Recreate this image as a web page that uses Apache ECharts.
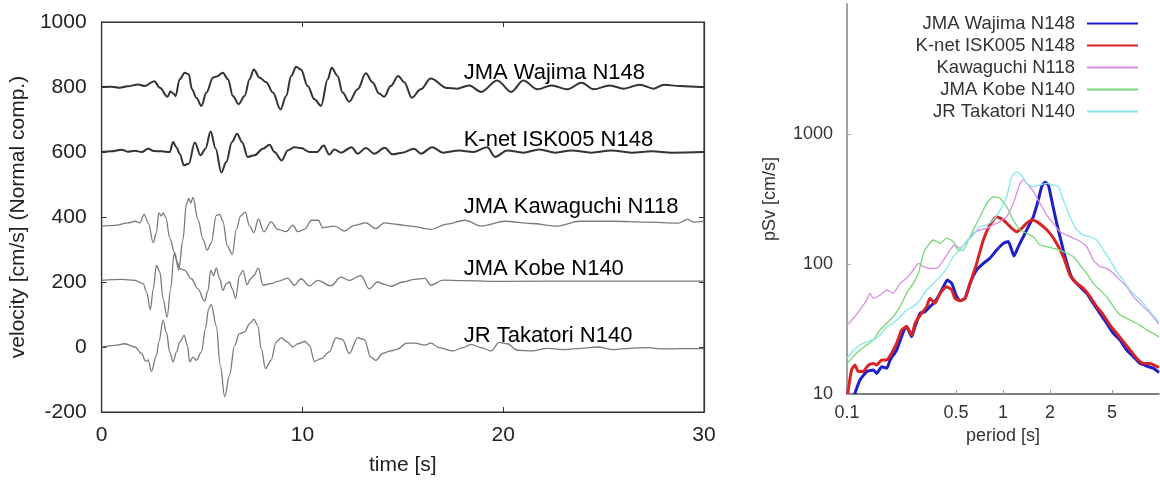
<!DOCTYPE html>
<html><head><meta charset="utf-8">
<script src="https://cdn.jsdelivr.net/npm/echarts@6/dist/echarts.min.js"></script>
<style>html,body{margin:0;padding:0;background:#fff}#c{width:1160px;height:481px}</style>
</head><body><div id="c"></div>
<script>
// ---------- left panel: velocity waveforms (time [s], velocity with offset [cm/s]) ----------
const xTicksTime = [0, 10, 20, 30];
const yTicksVel = [-200, 0, 200, 400, 600, 800, 1000];
const waveNames = ['JMA Wajima N148', 'K-net ISK005 N148', 'JMA Kawaguchi N118', 'JMA Kobe N140', 'JR Takatori N140'];
const waveLabelAnchor = [[18.03, 843], [18.03, 638], [18.03, 432], [18.03, 239], [18.03, 33]];

const waveWajima = [[0,800],[0.5,801],[0.9,798],[1.3,802],[1.82,808],[2.15,803],[2.62,818],[2.9,798],[3.28,770],[3.43,786],[3.56,781],[3.68,772],[3.89,824],[4.14,844],[4.34,839],[4.5,793],[4.72,767],[4.97,742],[5.22,783],[5.55,829],[5.71,832],[6.04,844],[6.29,824],[6.54,772],[6.82,747],[7.12,772],[7.37,824],[7.58,854],[7.86,829],[8.2,815],[8.53,783],[8.91,731],[9.19,772],[9.44,834],[9.69,862],[9.93,854],[10.26,803],[10.6,762],[10.93,742],[11.26,824],[11.46,859],[11.75,834],[12.0,783],[12.33,755],[12.75,793],[13.16,842],[13.49,815],[13.82,780],[14.07,770],[14.4,803],[14.77,834],[15.07,815],[15.45,767],[15.89,793],[16.39,826],[17.2,797],[17.7,795],[18.3,805],[18.9,785],[19.7,820],[20.4,785],[21.0,820],[21.7,793],[22.4,805],[23.2,793],[23.9,813],[24.5,793],[25.3,805],[26.0,795],[26.8,807],[27.5,795],[28.0,807],[28.8,803],[29.8,800],[30,800]];
const waveKnet = [[0,600],[0.5,602],[1.0,607],[1.3,601],[1.65,604],[2.0,600],[2.32,610],[2.6,603],[2.98,602],[3.39,600],[3.56,631],[3.72,615],[3.89,595],[4.1,559],[4.34,564],[4.64,629],[4.93,590],[5.17,610],[5.43,663],[5.68,610],[5.96,537],[6.21,569],[6.49,631],[6.75,656],[6.99,631],[7.28,585],[7.62,590],[8.03,610],[8.36,622],[8.61,600],[8.97,574],[9.27,605],[9.6,615],[9.93,612],[10.35,600],[10.73,600],[11.06,620],[11.34,592],[11.59,608],[11.92,598],[12.45,615],[12.75,595],[13.16,612],[13.58,595],[14.1,613],[14.49,593],[14.98,598],[15.56,610],[15.9,595],[16.47,615],[17.0,598],[17.8,605],[18.5,600],[19.2,615],[19.6,585],[20.2,605],[21.0,598],[21.8,608],[22.6,598],[23.4,605],[24.4,598],[25.4,605],[26.4,598],[27.4,602],[28.4,598],[30,600]];
const waveKawaguchi = [[0,372],[0.66,374],[1.32,382],[1.66,387],[1.9,382],[2.12,408],[2.32,382],[2.57,321],[2.73,352],[2.85,413],[2.98,403],[3.06,413],[3.2,398],[3.39,336],[3.64,290],[3.84,237],[4.05,330],[4.22,440],[4.34,457],[4.44,444],[4.55,460],[4.8,392],[5.05,331],[5.26,298],[5.46,320],[5.71,405],[5.88,408],[6.04,387],[6.26,311],[6.51,285],[6.71,362],[6.92,403],[7.15,415],[7.37,372],[7.58,352],[7.81,394],[8.08,354],[8.44,385],[8.77,362],[9.19,355],[9.52,375],[9.77,355],[10.1,362],[10.46,390],[10.79,390],[11.01,367],[11.59,372],[12.09,357],[12.58,374],[13.16,382],[13.66,364],[14.07,382],[14.74,377],[15.4,372],[16.39,362],[17.2,378],[18.1,390],[18.9,372],[20.1,387],[21.4,380],[22.7,372],[23.8,387],[25.5,387],[27.1,384],[28.7,381],[29.2,393],[29.5,384],[30,387]];
const waveKobe = [[0,205],[1.0,208],[1.66,205],[2.07,195],[2.24,169],[2.43,115],[2.57,179],[2.73,251],[2.9,231],[3.06,149],[3.26,92],[3.44,179],[3.61,287],[3.77,261],[3.89,241],[4.14,236],[4.47,210],[4.8,179],[5.13,141],[5.3,174],[5.43,236],[5.58,220],[5.71,243],[5.88,210],[6.04,174],[6.21,195],[6.37,200],[6.51,179],[6.67,149],[6.87,220],[7.04,236],[7.24,192],[7.42,210],[7.58,220],[7.81,243],[8.03,190],[8.44,195],[8.77,202],[9.27,212],[9.6,190],[9.93,210],[10.35,188],[10.76,205],[11.42,188],[11.92,215],[12.33,205],[12.91,220],[13.33,179],[13.74,200],[14.07,193],[14.4,187],[15.0,200],[15.6,208],[16.1,211],[16.4,190],[17.0,206],[18.0,204],[20,202],[25,203],[30,203]];
const waveTakatori = [[0,0],[0.66,5],[1.16,10],[1.66,0],[1.99,-20],[2.19,-44],[2.32,-40],[2.48,-75],[2.73,-26],[2.85,15],[3.06,82],[3.23,45],[3.39,-15],[3.56,-46],[3.73,-15],[3.89,15],[4.11,36],[4.27,5],[4.39,-46],[4.55,-31],[4.72,-41],[4.97,-15],[5.17,56],[5.33,118],[5.46,130],[5.71,66],[5.91,-56],[6.13,-153],[6.37,-87],[6.62,5],[6.87,41],[7.12,46],[7.37,72],[7.58,85],[7.78,66],[7.95,-5],[8.16,-66],[8.44,-41],[8.69,15],[8.94,28],[9.27,15],[9.52,0],[9.77,10],[10.13,17],[10.35,5],[10.6,-44],[10.93,-36],[11.34,-15],[11.67,28],[12.0,23],[12.33,-20],[12.75,28],[13.08,23],[13.41,-31],[13.66,-41],[13.99,-20],[14.4,-12],[14.7,-7],[15.2,12],[15.6,12],[16.1,6],[16.4,12],[16.8,-2],[17.5,-12],[18.0,-2],[18.4,8],[18.9,-2],[19.4,-12],[19.8,14],[20.2,10],[20.7,-10],[21.4,-12],[22.2,-4],[23.0,-8],[23.9,-4],[24.7,0],[25.5,-8],[26.3,-4],[27.2,-2],[28.0,-6],[28.8,-5],[30,-5]];

// ---------- right panel: pseudo velocity response spectra (period [s], pSv [cm/s]) ----------
const xTicksPeriod = [0.1, 0.5, 1, 2, 5];
const yTicksPSv = [10, 100, 1000];
const specNames = ['JMA Wajima N148', 'K-net ISK005 N148', 'Kawaguchi N118', 'JMA Kobe N140', 'JR Takatori N140'];

const specWajima = [[0.112,10],[0.121,12.8],[0.134,14.9],[0.1475,15.3],[0.155,14.4],[0.167,16.2],[0.18,15.8],[0.189,18.3],[0.208,21.8],[0.23,30.2],[0.241,33],[0.26,27.6],[0.273,33],[0.294,41.7],[0.316,43],[0.34,47],[0.367,51.3],[0.395,59.5],[0.415,66.9],[0.44,75.3],[0.469,71],[0.505,56.1],[0.53,52.2],[0.571,54.4],[0.615,71],[0.678,89.9],[0.748,101],[0.825,111],[0.911,128],[1.005,144],[1.082,149],[1.137,128],[1.176,115],[1.254,136],[1.35,162],[1.454,194],[1.565,231],[1.685,311],[1.769,393],[1.858,425],[1.952,405],[2.051,311],[2.208,206],[2.436,128],[2.689,84.8],[2.824,75.3],[3.117,66.9],[3.439,59.5],[3.793,49.8],[4.186,41.7],[4.619,35],[5.096,29.3],[5.623,26],[6.204,21.8],[6.845,19.4],[7.553,17.2],[8.335,16.4],[9.195,15.8],[10,14.6]];
const specKnet = [[0.101,10],[0.107,15.3],[0.1125,16.7],[0.118,14.9],[0.127,14.9],[0.137,16.7],[0.1475,17.2],[0.155,16.7],[0.167,18.3],[0.18,18.3],[0.193,20.6],[0.208,24.5],[0.224,31.1],[0.241,33],[0.26,28.4],[0.273,35],[0.301,41.7],[0.324,47],[0.34,54.4],[0.367,49.8],[0.395,59.5],[0.435,66.9],[0.469,63.1],[0.492,54.4],[0.53,52.2],[0.571,54.4],[0.615,71],[0.678,101],[0.748,153],[0.825,200],[0.911,231],[1.005,218],[1.109,194],[1.223,177],[1.317,188],[1.418,206],[1.527,218],[1.644,212],[1.813,194],[2.001,172],[2.208,144],[2.436,114],[2.689,82.3],[2.967,71],[3.273,65],[3.612,56.1],[3.985,47],[4.397,40.5],[4.852,33.9],[5.354,29.3],[5.906,25.3],[6.518,21.8],[7.191,18.8],[7.935,17.2],[8.756,17.2],[10,16]];
const specKawaguchi = [[0.1,33.9],[0.11,38.2],[0.121,44.3],[0.134,52.9],[0.14,59.5],[0.1475,54.4],[0.163,57.7],[0.18,63.1],[0.198,59.5],[0.219,71],[0.241,77.6],[0.266,89.9],[0.287,101],[0.309,95.4],[0.34,92.6],[0.376,92.6],[0.415,107],[0.457,128],[0.492,140],[0.53,132],[0.585,149],[0.645,172],[0.712,183],[0.786,188],[0.867,200],[0.957,212],[1.056,231],[1.165,293],[1.285,417],[1.35,443],[1.454,405],[1.565,360],[1.727,293],[1.905,238],[2.102,206],[2.319,177],[2.559,167],[2.824,158],[3.117,149],[3.439,136],[3.793,107],[4.186,95.4],[4.619,92.6],[5.096,84.8],[5.623,75.3],[6.204,66.9],[6.845,56.1],[7.553,49.8],[8.756,41.7],[10,34.5]];
const specKobe = [[0.1,17.2],[0.11,19.4],[0.121,21.8],[0.134,23.8],[0.1475,26],[0.163,31.1],[0.18,35],[0.198,39.3],[0.219,47],[0.241,59.5],[0.266,71],[0.287,84.8],[0.309,121],[0.332,140],[0.358,153],[0.395,144],[0.435,158],[0.48,149],[0.517,128],[0.557,128],[0.6,153],[0.645,183],[0.712,231],[0.786,293],[0.867,330],[0.957,320],[1.056,276],[1.165,218],[1.285,183],[1.418,172],[1.565,162],[1.727,140],[1.905,136],[2.102,132],[2.319,128],[2.559,121],[2.824,114],[3.117,98.2],[3.439,84.8],[3.793,71],[4.186,63.1],[4.619,56.1],[5.096,47],[5.623,40.5],[6.204,38.2],[6.845,36],[7.553,33.9],[8.335,31.1],[9.195,29.3],[10,27.4]];
const specTakatori = [[0.1,18.8],[0.11,21.8],[0.121,23.8],[0.134,25.3],[0.1475,26],[0.163,28.4],[0.18,33],[0.198,35],[0.219,39.3],[0.241,44.3],[0.266,47],[0.294,52.9],[0.324,63.1],[0.358,71],[0.395,80],[0.435,92.6],[0.48,114],[0.53,128],[0.585,149],[0.645,167],[0.712,194],[0.786,200],[0.867,218],[0.957,260],[1.056,330],[1.137,470],[1.223,513],[1.317,484],[1.418,417],[1.565,393],[1.727,405],[1.905,417],[2.102,405],[2.263,393],[2.436,311],[2.689,231],[2.967,183],[3.273,167],[3.612,162],[3.985,153],[4.397,128],[4.852,107],[5.354,87.3],[5.906,75.3],[6.518,63.1],[7.191,56.1],[7.935,49.8],[8.756,43],[10,35.8]];

const FONT = "'Liberation Sans', Arial, Helvetica, sans-serif";
const chart = echarts.init(document.getElementById('c'), null, {renderer: 'canvas'});

const waveData = [waveWajima, waveKnet, waveKawaguchi, waveKobe, waveTakatori];
const waveColor = ['#333333', '#333333', '#7a7a7a', '#7a7a7a', '#7a7a7a'];
const waveWidth = [2, 2, 1.3, 1.3, 1.3];
const specData = [specWajima, specKnet, specKawaguchi, specKobe, specTakatori];
const specColor = ['#1f1fc8', '#d82424', '#d98ee3', '#76d876', '#86e6ee'];
const specWidth = [3, 3, 1.3, 1.3, 1.3];

const series = [];
waveData.forEach((d, i) => series.push({
  name: 'trace ' + waveNames[i], type: 'line', xAxisIndex: 0, yAxisIndex: 0,
  data: d, showSymbol: false, symbol: 'none', smooth: 0.35, smoothMonotone: 'x',
  lineStyle: {color: waveColor[i], width: waveWidth[i]}, silent: true, z: 3
}));
series.push({
  name: 'trace labels', type: 'scatter', xAxisIndex: 0, yAxisIndex: 0, symbolSize: 0, silent: true, z: 5,
  itemStyle: {opacity: 1},
  data: waveLabelAnchor.map((p, i) => ({value: p, name: waveNames[i]})),
  label: {show: true, position: 'right', distance: 0, formatter: p => p.name, opacity: 1,
    color: '#000', textBorderWidth: 0, fontSize: 22, fontFamily: FONT}
});
specData.forEach((d, i) => series.push({
  name: specNames[i], type: 'line', xAxisIndex: 2, yAxisIndex: 2,
  data: d, showSymbol: false, symbol: 'none', smooth: 0.15,
  lineStyle: {color: specColor[i], width: specWidth[i]}, itemStyle: {color: specColor[i]}, silent: true, z: 3
}));

const tickLabel = {color: '#222', fontSize: 21, fontFamily: FONT, formatter: v => String(v)};
const frameLine = {show: true, onZero: false, lineStyle: {color: '#333', width: 1.2}};

chart.setOption({
  animation: false,
  backgroundColor: '#fff',
  grid: [
    {left: 100, top: 22, width: 604, height: 391, show: true, borderColor: '#333', borderWidth: 1.2},
    {left: 847, top: 4, width: 312, height: 390, show: false}
  ],
  legend: {
    data: specNames, orient: 'vertical', align: 'right', right: 16, top: 9,
    itemWidth: 51, itemHeight: 14, itemGap: 3, selectedMode: false,
    itemStyle: {opacity: 0, borderWidth: 0},
    textStyle: {fontSize: 18.5, color: '#333', fontFamily: FONT, padding: [0, 7, 0, 0]}
  },
  xAxis: [
    {type: 'value', gridIndex: 0, min: 0, max: 30, interval: 10, position: 'bottom',
      axisLine: frameLine, axisTick: {show: true, inside: true, length: 5, lineStyle: {color: '#333'}},
      splitLine: {show: false}, axisLabel: Object.assign({margin: 13}, tickLabel),
      name: 'time [s]', nameLocation: 'middle', nameGap: 43,
      nameTextStyle: {fontSize: 21, color: '#222', fontFamily: FONT}},
    {type: 'value', gridIndex: 0, min: 0, max: 30, interval: 10, position: 'top',
      axisLine: frameLine, axisTick: {show: true, inside: true, length: 5, lineStyle: {color: '#333'}},
      splitLine: {show: false}, axisLabel: {show: false}},
    {type: 'log', gridIndex: 1, min: 0.1, max: 10, logBase: 10, position: 'bottom',
      axisLine: {show: true, onZero: false, lineStyle: {color: '#555', width: 1.5}},
      axisTick: {show: true, inside: true, length: 4, customValues: xTicksPeriod, lineStyle: {color: '#999'}},
      minorTick: {show: false}, splitLine: {show: false},
      axisLabel: {customValues: xTicksPeriod, margin: 10, color: '#333', fontSize: 18, fontFamily: FONT,
        formatter: v => String(v)},
      name: 'period [s]', nameLocation: 'middle', nameGap: 30,
      nameTextStyle: {fontSize: 18, color: '#333', fontFamily: FONT}}
  ],
  yAxis: [
    {type: 'value', gridIndex: 0, min: -200, max: 1000, interval: 200, position: 'left',
      axisLine: frameLine, axisTick: {show: true, inside: true, length: 5, lineStyle: {color: '#333'}},
      splitLine: {show: false}, axisLabel: Object.assign({margin: 15}, tickLabel),
      name: 'velocity [cm/s] (Normal comp.)', nameLocation: 'middle', nameGap: 70,
      nameTextStyle: {fontSize: 21, color: '#222', fontFamily: FONT}},
    {type: 'value', gridIndex: 0, min: -200, max: 1000, interval: 200, position: 'right',
      axisLine: frameLine, axisTick: {show: true, inside: true, length: 5, lineStyle: {color: '#333'}},
      splitLine: {show: false}, axisLabel: {show: false}},
    {type: 'log', gridIndex: 1, min: 10, max: 10000, logBase: 10, position: 'left',
      axisLine: {show: true, onZero: false, lineStyle: {color: '#a0a0a0', width: 2}},
      axisTick: {show: true, inside: true, length: 4, customValues: yTicksPSv, lineStyle: {color: '#aaa'}},
      splitLine: {show: false},
      axisLabel: {customValues: yTicksPSv, margin: 14, color: '#333', fontSize: 18, fontFamily: FONT,
        formatter: v => String(v)},
      name: 'pSv [cm/s]', nameLocation: 'middle', nameGap: 68,
      nameTextStyle: {fontSize: 18, color: '#333', fontFamily: FONT}}
  ],
  series: series
});
</script></body></html>
